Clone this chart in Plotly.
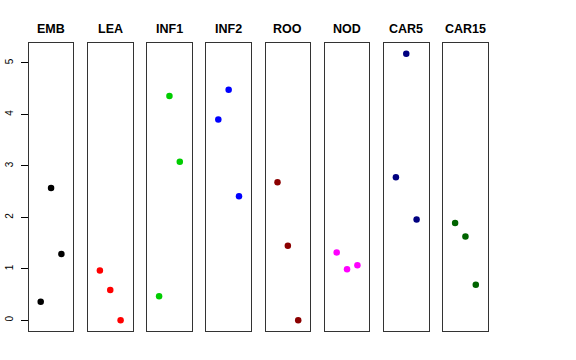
import plotly.graph_objects as go

categories = ["EMB", "LEA", "INF1", "INF2", "ROO", "NOD", "CAR5", "CAR15"]
positions = [1, 2, 3]
values = {
    "EMB":   [0.36, 2.57, 1.29],
    "LEA":   [0.97, 0.59, 0.00],
    "INF1":  [0.47, 4.36, 3.08],
    "INF2":  [3.90, 4.48, 2.41],
    "ROO":   [2.68, 1.45, 0.00],
    "NOD":   [1.32, 0.99, 1.07],
    "CAR5":  [2.78, 5.18, 1.96],
    "CAR15": [1.89, 1.63, 0.69],
}
colors = ["#000000", "#FF0000", "#00CD00", "#0000FF", "#8B0000", "#FF00FF", "#000080", "#006400"]
y_ticks = [0, 1, 2, 3, 4, 5]

W, H = 576, 360
left0, pw, step = 28.7, 44.7, 59.2
top_px, bot_px = 43, 331

fig = go.Figure()
ymax = max(max(v) for v in values.values())
yr = [0 - 0.04 * ymax, ymax * 1.04]

for i, cat in enumerate(categories):
    ax = "" if i == 0 else str(i + 1)
    x0 = (left0 + step * i) / W
    x1 = (left0 + step * i + pw) / W
    fig.add_trace(go.Scatter(
        x=positions, y=values[cat], mode="markers",
        marker=dict(color=colors[i], size=6.5),
        xaxis="x" + ax, yaxis="y" + ax, showlegend=False, hoverinfo="y"))
    fig.layout["xaxis" + ax] = dict(
        domain=[x0, x1], range=[-0.16, 4.16], showticklabels=False, ticks="",
        showgrid=False, zeroline=False, showline=True, mirror=True,
        linecolor="#333333", linewidth=1, anchor="y" + ax, automargin=False)
    yaxis = dict(
        domain=[1 - bot_px / H, 1 - top_px / H], range=yr, showgrid=False,
        zeroline=False, showline=True, mirror=True, linecolor="#333333",
        linewidth=1, anchor="x" + ax, automargin=False)
    if i == 0:
        yaxis.update(tickvals=y_ticks, ticks="outside", ticklen=7,
                     tickcolor="#000000", tickangle=-90, ticklabelstandoff=4,
                     tickfont=dict(size=10, color="#000000"))
    else:
        yaxis.update(showticklabels=False, ticks="")
    fig.layout["yaxis" + ax] = yaxis
    fig.add_annotation(text="<b>" + cat + "</b>", x=(x0 + x1) / 2, y=1 - 29 / H,
                       xref="paper", yref="paper", showarrow=False,
                       xanchor="center", yanchor="middle",
                       font=dict(size=12.5, color="#000000"))

fig.update_layout(width=W, height=H, margin=dict(l=0, r=0, t=0, b=0, autoexpand=False),
                  plot_bgcolor="white", paper_bgcolor="white",
                  font=dict(family="Liberation Sans, Arial, sans-serif"))
fig.write_html("out.html", config={"displayModeBar": False},
               post_script="document.body.style.margin='0';document.body.style.padding='0';")
